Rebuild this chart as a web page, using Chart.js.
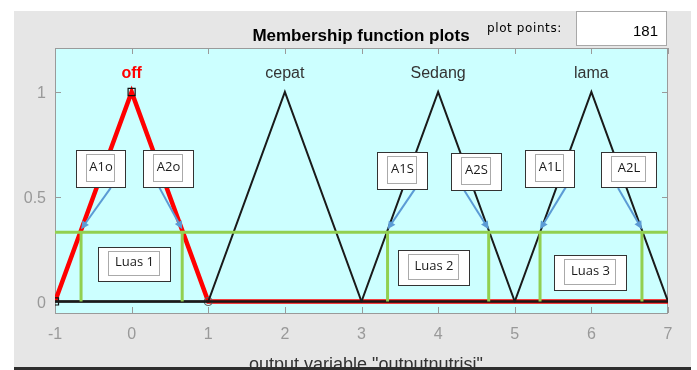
<!DOCTYPE html>
<html>
<head>
<meta charset="utf-8">
<script src="https://cdn.jsdelivr.net/npm/chart.js@4"></script>
<style>
  html, body { margin: 0; padding: 0; background: #fff; }
  #wrap { width: 697px; height: 370px; }
</style>
</head>
<body>
<div id="wrap"><canvas id="mfChart" width="697" height="370"></canvas></div>
<script>
// axis ticks
const xTicks = [-1, 0, 1, 2, 3, 4, 5, 6, 7];
const yTicks = [0, 0.5, 1];
const yTickLabels = ['0', '0.5', '1'];

// membership functions of "outputnutrisi"
const mfNames = ['off', 'cepat', 'Sedang', 'lama'];
const mfPeaks = [0, 2, 4, 6];
const offX = [-1, 0, 1, 7];
const offY = [0, 1, 0, 0];
const cepatX = [-1, 1, 2, 3, 7];
const cepatY = [0, 0, 1, 0, 0];
const sedangX = [-1, 3, 4, 5, 7];
const sedangY = [0, 0, 1, 0, 0];
const lamaX = [-1, 5, 6, 7];
const lamaY = [0, 0, 1, 0];

// alpha cut and where it crosses the triangles
const cutLevel = 0.33;
const cutX = [-0.66, 0.66, 3.34, 4.66, 5.33, 6.66];
const cutNames = ['A1o', 'A2o', 'A1S', 'A2S', 'A1L', 'A2L'];
const areaNames = ['Luas 1', 'Luas 2', 'Luas 3'];

// callout boxes (centre in axis units, size in px) and arrow start points
const cutBoxes = [
    { x: -0.406, y: 0.635, w: 49, h: 37, fromX: -0.273, fromY: 0.542 },
    { x: 0.475, y: 0.635, w: 50, h: 37, fromX: 0.357, fromY: 0.547 },
    { x: 3.529, y: 0.625, w: 50, h: 37, fromX: 3.707, fromY: 0.542 },
    { x: 4.494, y: 0.620, w: 50, h: 37, fromX: 4.338, fromY: 0.532 },
    { x: 5.453, y: 0.635, w: 49, h: 37, fromX: 5.669, fromY: 0.547 },
    { x: 6.485, y: 0.630, w: 55, h: 35, fromX: 6.348, fromY: 0.542 },
];
const areaBoxes = [
    { x: 0.031, y: 0.179, w: 72, h: 34 },
    { x: 3.940, y: 0.162, w: 71, h: 35 },
    { x: 5.982, y: 0.138, w: 72, h: 35 },
];

const toPts = (xs, ys) => xs.map((x, i) => ({ x: x, y: ys[i] }));

const green = '#92d050';
const datasets = [];

datasets.push({
    data: [{ x: -1, y: cutLevel }, { x: 7, y: cutLevel }],
    borderColor: green, borderWidth: 3, pointRadius: 0,
});
cutX.forEach(x => {
    datasets.push({
        data: [{ x: x, y: 0 }, { x: x, y: cutLevel }],
        borderColor: green, borderWidth: 3, pointRadius: 0,
    });
});

[[cepatX, cepatY], [sedangX, sedangY], [lamaX, lamaY]].forEach(mf => {
    datasets.push({
        data: toPts(mf[0], mf[1]),
        borderColor: '#1a1a1a', borderWidth: 2, pointRadius: 0,
    });
});

// the selected function goes last so it sits underneath
datasets.push({
    data: toPts(offX, offY),
    borderColor: '#ff0000', borderWidth: 4.5,
    pointStyle: ['rect', 'rect', 'circle', false],
    pointRadius: [5, 5, 4, 0],
    pointBorderColor: ['#111', '#111', '#666', '#111'],
    pointBackgroundColor: 'rgba(0,0,0,0)',
    pointBorderWidth: 1.2,
});

const drawArrow = (ctx, x1, y1, x2, y2) => {
    const ang = Math.atan2(y2 - y1, x2 - x1);
    const head = 9;
    ctx.strokeStyle = '#5b9bd5';
    ctx.fillStyle = '#5b9bd5';
    ctx.lineWidth = 2;
    ctx.beginPath();
    ctx.moveTo(x1, y1);
    ctx.lineTo(x2 - Math.cos(ang) * head * 0.8, y2 - Math.sin(ang) * head * 0.8);
    ctx.stroke();
    ctx.beginPath();
    ctx.moveTo(x2, y2);
    ctx.lineTo(x2 - head * Math.cos(ang - 0.45), y2 - head * Math.sin(ang - 0.45));
    ctx.lineTo(x2 - head * Math.cos(ang + 0.45), y2 - head * Math.sin(ang + 0.45));
    ctx.closePath();
    ctx.fill();
};

const drawCallout = (ctx, cx, cy, w, h, text) => {
    const left = Math.round(cx - w / 2) + 0.5;
    const top = Math.round(cy - h / 2) + 0.5;
    ctx.fillStyle = '#fff';
    ctx.fillRect(left, top, w, h);
    ctx.strokeStyle = '#333';
    ctx.lineWidth = 1;
    ctx.setLineDash([]);
    ctx.strokeRect(left, top, w, h);
    ctx.setLineDash([1, 1]);
    ctx.strokeStyle = '#555';
    ctx.strokeRect(left + 10, top + 4, w - 21, h - 10);
    ctx.setLineDash([]);
    ctx.fillStyle = '#1a1a1a';
    ctx.font = '13px "Open Sans", sans-serif';
    ctx.textAlign = 'center';
    ctx.textBaseline = 'middle';
    ctx.fillText(text, left + w / 2, top + h / 2 - 2);
};

const mfPlot = {
    id: 'mfPlot',
    beforeDraw(chart) {
        const { ctx, chartArea: a } = chart;
        ctx.save();
        ctx.fillStyle = '#fff';
        ctx.fillRect(0, 0, chart.width, chart.height);
        ctx.fillStyle = '#e6e6e6';
        ctx.fillRect(14, 11, 677, 356);
        ctx.fillStyle = '#ccffff';
        ctx.fillRect(a.left, a.top, a.right - a.left, a.bottom - a.top);

        ctx.fillStyle = '#000';
        ctx.font = 'bold 17px "Liberation Sans", Arial, sans-serif';
        ctx.textAlign = 'center';
        ctx.textBaseline = 'alphabetic';
        ctx.fillText('Membership function plots', 361, 41);

        ctx.font = '12px "DejaVu Sans", sans-serif';
        ctx.letterSpacing = '0.6px';
        ctx.textAlign = 'left';
        ctx.fillText('plot points:', 487, 32);
        ctx.letterSpacing = '0px';

        ctx.fillStyle = '#fff';
        ctx.fillRect(576, 11, 91, 35);
        ctx.strokeStyle = '#a8a8a8';
        ctx.lineWidth = 1;
        ctx.strokeRect(576.5, 11.5, 90, 34);
        ctx.fillStyle = '#000';
        ctx.font = '15px "Liberation Sans", Arial, sans-serif';
        ctx.textAlign = 'right';
        ctx.fillText('181', 658, 36);
        ctx.restore();
    },
    beforeDatasetsDraw(chart) {
        const { ctx, chartArea: a, scales: { x, y } } = chart;
        ctx.save();
        ctx.strokeStyle = '#9a9a9a';
        ctx.lineWidth = 1;
        ctx.strokeRect(a.left + 0.5, a.top + 0.5, a.right - a.left - 1, a.bottom - a.top);

        ctx.beginPath();
        xTicks.forEach(v => {
            const px = Math.round(x.getPixelForValue(v)) + 0.5;
            ctx.moveTo(px, a.bottom); ctx.lineTo(px, a.bottom - 6);
            ctx.moveTo(px, a.top); ctx.lineTo(px, a.top + 6);
        });
        yTicks.forEach(v => {
            const py = Math.round(y.getPixelForValue(v)) + 0.5;
            ctx.moveTo(a.left, py); ctx.lineTo(a.left + 6, py);
            ctx.moveTo(a.right, py); ctx.lineTo(a.right - 6, py);
        });
        ctx.stroke();

        ctx.fillStyle = '#999';
        ctx.font = '16px "Liberation Sans", Arial, sans-serif';
        ctx.textAlign = 'center';
        ctx.textBaseline = 'middle';
        xTicks.forEach(v => {
            ctx.fillText(String(v), x.getPixelForValue(v), a.bottom + 22);
        });
        ctx.textAlign = 'right';
        yTicks.forEach((v, i) => {
            ctx.fillText(yTickLabels[i], a.left - 9, y.getPixelForValue(v) + 2);
        });
        ctx.restore();
    },
    afterDatasetsDraw(chart) {
        const { ctx, scales: { x, y } } = chart;
        ctx.save();

        ctx.textAlign = 'center';
        ctx.textBaseline = 'middle';
        mfNames.forEach((name, i) => {
            if (i === 0) {
                ctx.fillStyle = '#ff0000';
                ctx.font = 'bold 16px "Liberation Sans", Arial, sans-serif';
            } else {
                ctx.fillStyle = '#333';
                ctx.font = '16px "Liberation Sans", Arial, sans-serif';
            }
            ctx.fillText(name, x.getPixelForValue(mfPeaks[i]), y.getPixelForValue(1.09));
        });

        cutBoxes.forEach((b, i) => {
            const x1 = x.getPixelForValue(b.fromX);
            const y1 = y.getPixelForValue(b.fromY);
            const tx = x.getPixelForValue(cutX[i]);
            const ty = y.getPixelForValue(cutLevel) - 3;
            drawArrow(ctx, x1, y1, tx, ty);
            drawCallout(ctx, x.getPixelForValue(b.x), y.getPixelForValue(b.y), b.w, b.h, cutNames[i]);
        });
        areaBoxes.forEach((b, i) => {
            drawCallout(ctx, x.getPixelForValue(b.x), y.getPixelForValue(b.y), b.w, b.h, areaNames[i]);
        });

        ctx.fillStyle = '#333';
        ctx.font = '18px "Liberation Sans", Arial, sans-serif';
        ctx.textAlign = 'center';
        ctx.textBaseline = 'alphabetic';
        ctx.fillText('output variable "outputnutrisi"', 366, 370);

        ctx.fillStyle = '#fff';
        ctx.fillRect(0, 367, chart.width, 3);
        ctx.fillStyle = '#2e2e2e';
        ctx.fillRect(14, 367, 677, 3);
        ctx.restore();
    }
};

new Chart(document.getElementById('mfChart'), {
    type: 'line',
    data: { datasets: datasets },
    options: {
        responsive: false,
        animation: false,
        events: [],
        layout: { padding: { left: 55, right: 29, top: 48, bottom: 57 } },
        elements: { line: { tension: 0, fill: false } },
        scales: {
            x: { type: 'linear', min: -1, max: 7, display: false },
            y: { type: 'linear', min: -0.055, max: 1.21, display: false },
        },
        plugins: { legend: { display: false }, tooltip: { enabled: false } },
    },
    plugins: [mfPlot],
});
</script>
</body>
</html>
